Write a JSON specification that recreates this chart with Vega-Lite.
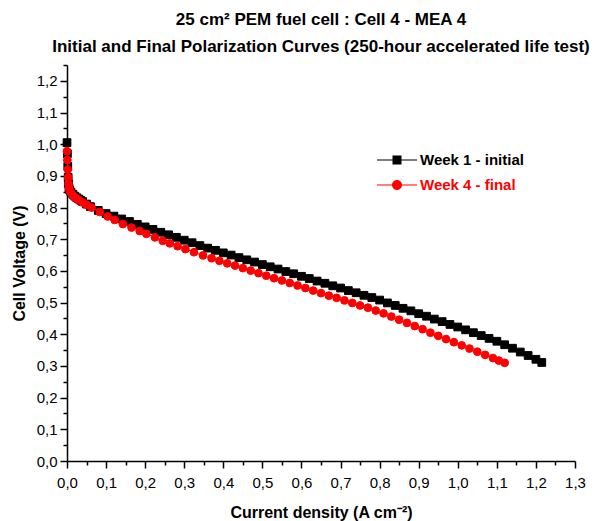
{
  "$schema": "https://vega.github.io/schema/vega-lite/v6.json",
  "width": 508,
  "height": 396,
  "autosize": {"type": "none"},
  "padding": {"left": 67, "top": 65, "right": 29, "bottom": 60},
  "background": "white",
  "config": {
    "font": "Liberation Sans",
    "view": {"stroke": null},
    "title": {"font": "Liberation Sans", "subtitleFont": "Liberation Sans"},
    "legend": {"labelFont": "Liberation Sans"}
  },
  "title": {
    "text": "25 cm² PEM fuel cell : Cell 4 - MEA 4",
    "subtitle": "Initial and Final Polarization Curves (250-hour accelerated life test)",
    "fontSize": 17,
    "fontWeight": "bold",
    "subtitleFontSize": 17,
    "subtitleFontWeight": "bold",
    "subtitleColor": "black",
    "color": "black",
    "frame": "group",
    "anchor": "middle",
    "offset": 2,
    "subtitlePadding": 10
  },
  "data": {
    "values": [
      {"series": "Week 1 - initial", "current": 0, "voltage": 1.005},
      {"series": "Week 1 - initial", "current": 0.001, "voltage": 0.97},
      {"series": "Week 1 - initial", "current": 0.002, "voltage": 0.93},
      {"series": "Week 1 - initial", "current": 0.003, "voltage": 0.895},
      {"series": "Week 1 - initial", "current": 0.004, "voltage": 0.875},
      {"series": "Week 1 - initial", "current": 0.005, "voltage": 0.862},
      {"series": "Week 1 - initial", "current": 0.007, "voltage": 0.855},
      {"series": "Week 1 - initial", "current": 0.01, "voltage": 0.849},
      {"series": "Week 1 - initial", "current": 0.015, "voltage": 0.842},
      {"series": "Week 1 - initial", "current": 0.02, "voltage": 0.836},
      {"series": "Week 1 - initial", "current": 0.025, "voltage": 0.831},
      {"series": "Week 1 - initial", "current": 0.03, "voltage": 0.827},
      {"series": "Week 1 - initial", "current": 0.035, "voltage": 0.823},
      {"series": "Week 1 - initial", "current": 0.04, "voltage": 0.819},
      {"series": "Week 1 - initial", "current": 0.05, "voltage": 0.811},
      {"series": "Week 1 - initial", "current": 0.06, "voltage": 0.803},
      {"series": "Week 1 - initial", "current": 0.08, "voltage": 0.791},
      {"series": "Week 1 - initial", "current": 0.1, "voltage": 0.781},
      {"series": "Week 1 - initial", "current": 0.12, "voltage": 0.773},
      {"series": "Week 1 - initial", "current": 0.14, "voltage": 0.764},
      {"series": "Week 1 - initial", "current": 0.16, "voltage": 0.756},
      {"series": "Week 1 - initial", "current": 0.18, "voltage": 0.747},
      {"series": "Week 1 - initial", "current": 0.2, "voltage": 0.739},
      {"series": "Week 1 - initial", "current": 0.22, "voltage": 0.731},
      {"series": "Week 1 - initial", "current": 0.24, "voltage": 0.722},
      {"series": "Week 1 - initial", "current": 0.26, "voltage": 0.714},
      {"series": "Week 1 - initial", "current": 0.28, "voltage": 0.706},
      {"series": "Week 1 - initial", "current": 0.3, "voltage": 0.697},
      {"series": "Week 1 - initial", "current": 0.32, "voltage": 0.689},
      {"series": "Week 1 - initial", "current": 0.34, "voltage": 0.68},
      {"series": "Week 1 - initial", "current": 0.36, "voltage": 0.672},
      {"series": "Week 1 - initial", "current": 0.38, "voltage": 0.665},
      {"series": "Week 1 - initial", "current": 0.4, "voltage": 0.657},
      {"series": "Week 1 - initial", "current": 0.42, "voltage": 0.65},
      {"series": "Week 1 - initial", "current": 0.44, "voltage": 0.642},
      {"series": "Week 1 - initial", "current": 0.46, "voltage": 0.635},
      {"series": "Week 1 - initial", "current": 0.48, "voltage": 0.628},
      {"series": "Week 1 - initial", "current": 0.5, "voltage": 0.62},
      {"series": "Week 1 - initial", "current": 0.52, "voltage": 0.613},
      {"series": "Week 1 - initial", "current": 0.54, "voltage": 0.606},
      {"series": "Week 1 - initial", "current": 0.56, "voltage": 0.598},
      {"series": "Week 1 - initial", "current": 0.58, "voltage": 0.591},
      {"series": "Week 1 - initial", "current": 0.6, "voltage": 0.583},
      {"series": "Week 1 - initial", "current": 0.62, "voltage": 0.576},
      {"series": "Week 1 - initial", "current": 0.64, "voltage": 0.568},
      {"series": "Week 1 - initial", "current": 0.66, "voltage": 0.561},
      {"series": "Week 1 - initial", "current": 0.68, "voltage": 0.553},
      {"series": "Week 1 - initial", "current": 0.7, "voltage": 0.546},
      {"series": "Week 1 - initial", "current": 0.72, "voltage": 0.538},
      {"series": "Week 1 - initial", "current": 0.74, "voltage": 0.531},
      {"series": "Week 1 - initial", "current": 0.76, "voltage": 0.523},
      {"series": "Week 1 - initial", "current": 0.78, "voltage": 0.516},
      {"series": "Week 1 - initial", "current": 0.8, "voltage": 0.508},
      {"series": "Week 1 - initial", "current": 0.82, "voltage": 0.499},
      {"series": "Week 1 - initial", "current": 0.84, "voltage": 0.491},
      {"series": "Week 1 - initial", "current": 0.86, "voltage": 0.482},
      {"series": "Week 1 - initial", "current": 0.88, "voltage": 0.474},
      {"series": "Week 1 - initial", "current": 0.9, "voltage": 0.465},
      {"series": "Week 1 - initial", "current": 0.92, "voltage": 0.457},
      {"series": "Week 1 - initial", "current": 0.94, "voltage": 0.448},
      {"series": "Week 1 - initial", "current": 0.96, "voltage": 0.44},
      {"series": "Week 1 - initial", "current": 0.98, "voltage": 0.431},
      {"series": "Week 1 - initial", "current": 1.0, "voltage": 0.423},
      {"series": "Week 1 - initial", "current": 1.02, "voltage": 0.414},
      {"series": "Week 1 - initial", "current": 1.04, "voltage": 0.405},
      {"series": "Week 1 - initial", "current": 1.06, "voltage": 0.396},
      {"series": "Week 1 - initial", "current": 1.08, "voltage": 0.387},
      {"series": "Week 1 - initial", "current": 1.1, "voltage": 0.378},
      {"series": "Week 1 - initial", "current": 1.12, "voltage": 0.367},
      {"series": "Week 1 - initial", "current": 1.14, "voltage": 0.356},
      {"series": "Week 1 - initial", "current": 1.16, "voltage": 0.344},
      {"series": "Week 1 - initial", "current": 1.18, "voltage": 0.333},
      {"series": "Week 1 - initial", "current": 1.2, "voltage": 0.321},
      {"series": "Week 1 - initial", "current": 1.215, "voltage": 0.311},
      {"series": "Week 4 - final", "current": 0, "voltage": 0.978},
      {"series": "Week 4 - final", "current": 0.001, "voltage": 0.95},
      {"series": "Week 4 - final", "current": 0.002, "voltage": 0.92},
      {"series": "Week 4 - final", "current": 0.003, "voltage": 0.895},
      {"series": "Week 4 - final", "current": 0.004, "voltage": 0.875},
      {"series": "Week 4 - final", "current": 0.005, "voltage": 0.862},
      {"series": "Week 4 - final", "current": 0.007, "voltage": 0.853},
      {"series": "Week 4 - final", "current": 0.01, "voltage": 0.847},
      {"series": "Week 4 - final", "current": 0.015, "voltage": 0.839},
      {"series": "Week 4 - final", "current": 0.02, "voltage": 0.833},
      {"series": "Week 4 - final", "current": 0.025, "voltage": 0.828},
      {"series": "Week 4 - final", "current": 0.03, "voltage": 0.824},
      {"series": "Week 4 - final", "current": 0.04, "voltage": 0.816},
      {"series": "Week 4 - final", "current": 0.05, "voltage": 0.809},
      {"series": "Week 4 - final", "current": 0.063, "voltage": 0.8},
      {"series": "Week 4 - final", "current": 0.084, "voltage": 0.786},
      {"series": "Week 4 - final", "current": 0.104, "voltage": 0.772},
      {"series": "Week 4 - final", "current": 0.122, "voltage": 0.761},
      {"series": "Week 4 - final", "current": 0.143, "voltage": 0.748},
      {"series": "Week 4 - final", "current": 0.165, "voltage": 0.737},
      {"series": "Week 4 - final", "current": 0.186, "voltage": 0.726},
      {"series": "Week 4 - final", "current": 0.203, "voltage": 0.717},
      {"series": "Week 4 - final", "current": 0.225, "voltage": 0.706},
      {"series": "Week 4 - final", "current": 0.245, "voltage": 0.695},
      {"series": "Week 4 - final", "current": 0.263, "voltage": 0.687},
      {"series": "Week 4 - final", "current": 0.283, "voltage": 0.678},
      {"series": "Week 4 - final", "current": 0.303, "voltage": 0.669},
      {"series": "Week 4 - final", "current": 0.325, "voltage": 0.659},
      {"series": "Week 4 - final", "current": 0.348, "voltage": 0.649},
      {"series": "Week 4 - final", "current": 0.37, "voltage": 0.64},
      {"series": "Week 4 - final", "current": 0.39, "voltage": 0.632},
      {"series": "Week 4 - final", "current": 0.41, "voltage": 0.624},
      {"series": "Week 4 - final", "current": 0.43, "voltage": 0.617},
      {"series": "Week 4 - final", "current": 0.45, "voltage": 0.609},
      {"series": "Week 4 - final", "current": 0.47, "voltage": 0.601},
      {"series": "Week 4 - final", "current": 0.49, "voltage": 0.593},
      {"series": "Week 4 - final", "current": 0.51, "voltage": 0.585},
      {"series": "Week 4 - final", "current": 0.53, "voltage": 0.577},
      {"series": "Week 4 - final", "current": 0.55, "voltage": 0.57},
      {"series": "Week 4 - final", "current": 0.57, "voltage": 0.562},
      {"series": "Week 4 - final", "current": 0.59, "voltage": 0.554},
      {"series": "Week 4 - final", "current": 0.61, "voltage": 0.546},
      {"series": "Week 4 - final", "current": 0.63, "voltage": 0.538},
      {"series": "Week 4 - final", "current": 0.65, "voltage": 0.53},
      {"series": "Week 4 - final", "current": 0.67, "voltage": 0.522},
      {"series": "Week 4 - final", "current": 0.69, "voltage": 0.515},
      {"series": "Week 4 - final", "current": 0.71, "voltage": 0.507},
      {"series": "Week 4 - final", "current": 0.73, "voltage": 0.499},
      {"series": "Week 4 - final", "current": 0.75, "voltage": 0.491},
      {"series": "Week 4 - final", "current": 0.77, "voltage": 0.484},
      {"series": "Week 4 - final", "current": 0.79, "voltage": 0.475},
      {"series": "Week 4 - final", "current": 0.81, "voltage": 0.466},
      {"series": "Week 4 - final", "current": 0.83, "voltage": 0.456},
      {"series": "Week 4 - final", "current": 0.85, "voltage": 0.446},
      {"series": "Week 4 - final", "current": 0.87, "voltage": 0.436},
      {"series": "Week 4 - final", "current": 0.89, "voltage": 0.426},
      {"series": "Week 4 - final", "current": 0.91, "voltage": 0.416},
      {"series": "Week 4 - final", "current": 0.93, "voltage": 0.405},
      {"series": "Week 4 - final", "current": 0.95, "voltage": 0.395},
      {"series": "Week 4 - final", "current": 0.97, "voltage": 0.385},
      {"series": "Week 4 - final", "current": 0.99, "voltage": 0.375},
      {"series": "Week 4 - final", "current": 1.01, "voltage": 0.365},
      {"series": "Week 4 - final", "current": 1.03, "voltage": 0.355},
      {"series": "Week 4 - final", "current": 1.05, "voltage": 0.345},
      {"series": "Week 4 - final", "current": 1.07, "voltage": 0.335},
      {"series": "Week 4 - final", "current": 1.09, "voltage": 0.325},
      {"series": "Week 4 - final", "current": 1.105, "voltage": 0.317},
      {"series": "Week 4 - final", "current": 1.12, "voltage": 0.31}
    ]
  },
  "encoding": {
    "x": {
      "field": "current",
      "type": "quantitative",
      "scale": {"domain": [0, 1.3], "nice": false, "zero": false},
      "axis": {
        "title": "Current density (A cm⁻²)",
        "values": [0, 0.05, 0.1, 0.15, 0.2, 0.25, 0.3, 0.35, 0.4, 0.45, 0.5, 0.55, 0.6, 0.65, 0.7, 0.75, 0.8, 0.85, 0.9, 0.95, 1.0, 1.05, 1.1, 1.15, 1.2, 1.25, 1.3],
        "tickSize": {"condition": {"test": "round(datum.value*100) % 10 !== 0", "value": 4}, "value": 7},
        "labelExpr": "round(datum.value*100) % 10 === 0 ? replace(format(datum.value, '.1f'), '.', ',') : ''",
        "grid": false,
        "domainColor": "black",
        "tickColor": "black",
        "domainWidth": 1.5,
        "tickWidth": 1.5,
        "labelFontSize": 15,
        "labelColor": "black",
        "labelPadding": 7,
        "labelOverlap": false,
        "labelFlush": false,
        "titleFontSize": 16,
        "titleFontWeight": "bold",
        "titleColor": "black",
        "titlePadding": 14
      }
    },
    "y": {
      "field": "voltage",
      "type": "quantitative",
      "scale": {"domain": [0, 1.25], "nice": false, "zero": false},
      "axis": {
        "title": "Cell Voltage (V)",
        "values": [0, 0.05, 0.1, 0.15, 0.2, 0.25, 0.3, 0.35, 0.4, 0.45, 0.5, 0.55, 0.6, 0.65, 0.7, 0.75, 0.8, 0.85, 0.9, 0.95, 1.0, 1.05, 1.1, 1.15, 1.2, 1.25],
        "tickSize": {"condition": {"test": "round(datum.value*100) % 10 !== 0", "value": 4}, "value": 7},
        "labelExpr": "round(datum.value*100) % 10 === 0 ? replace(format(datum.value, '.1f'), '.', ',') : ''",
        "grid": false,
        "domainColor": "black",
        "tickColor": "black",
        "domainWidth": 1.5,
        "tickWidth": 1.5,
        "labelFontSize": 15,
        "labelColor": "black",
        "labelPadding": 3,
        "labelOverlap": false,
        "labelFlush": false,
        "titleFontSize": 16,
        "titleFontWeight": "bold",
        "titleColor": "black",
        "titlePadding": 9
      }
    }
  },
  "layer": [
    {
      "transform": [{"filter": "datum.series === 'Week 1 - initial'"}],
      "mark": {"type": "line", "strokeWidth": 1, "color": "#000000"}
    },
    {
      "transform": [{"filter": "datum.series === 'Week 1 - initial'"}],
      "mark": {"type": "point", "shape": "square", "filled": true, "color": "#000000", "stroke": "#000000", "strokeWidth": 1, "size": 60},
      "encoding": {
        "opacity": {
          "field": "series",
          "type": "nominal",
          "scale": {"domain": ["Week 1 - initial"], "range": [1]},
          "legend": {
            "title": null,
            "orient": "none",
            "legendX": 320,
            "legendY": 85,
            "padding": 0,
            "symbolType": "M-2,-0.06H-0.45V0.06H-2Z M0.45,-0.06H2V0.06H0.45Z M-0.45,-0.45H0.45V0.45H-0.45Z",
            "symbolSize": 400,
            "symbolFillColor": "#000000",
            "symbolStrokeColor": "#000000",
            "symbolStrokeWidth": 0,
            "labelColor": "#000000",
            "labelOffset": 13,
            "labelFontSize": 15,
            "labelFontWeight": "bold"
          }
        }
      }
    },
    {
      "transform": [{"filter": "datum.series === 'Week 4 - final'"}],
      "mark": {"type": "line", "strokeWidth": 1, "color": "#ff0000"}
    },
    {
      "transform": [{"filter": "datum.series === 'Week 4 - final'"}],
      "mark": {"type": "point", "shape": "circle", "filled": true, "color": "#ff0000", "stroke": "#ff0000", "strokeWidth": 1, "size": 60},
      "encoding": {
        "opacity": {
          "field": "series",
          "type": "nominal",
          "scale": {"domain": ["Week 4 - final"], "range": [1]},
          "legend": {
            "title": null,
            "orient": "none",
            "legendX": 320,
            "legendY": 110,
            "padding": 0,
            "symbolType": "M-2,-0.06H-0.45V0.06H-2Z M0.45,-0.06H2V0.06H0.45Z M0.5,0A0.5,0.5,0,1,1,-0.5,0A0.5,0.5,0,1,1,0.5,0Z",
            "symbolSize": 400,
            "symbolFillColor": "#ff0000",
            "symbolStrokeColor": "#ff0000",
            "symbolStrokeWidth": 0,
            "labelColor": "#ff0000",
            "labelOffset": 13,
            "labelFontSize": 15,
            "labelFontWeight": "bold"
          }
        }
      }
    }
  ],
  "resolve": {"scale": {"opacity": "independent"}, "legend": {"opacity": "independent"}}
}
